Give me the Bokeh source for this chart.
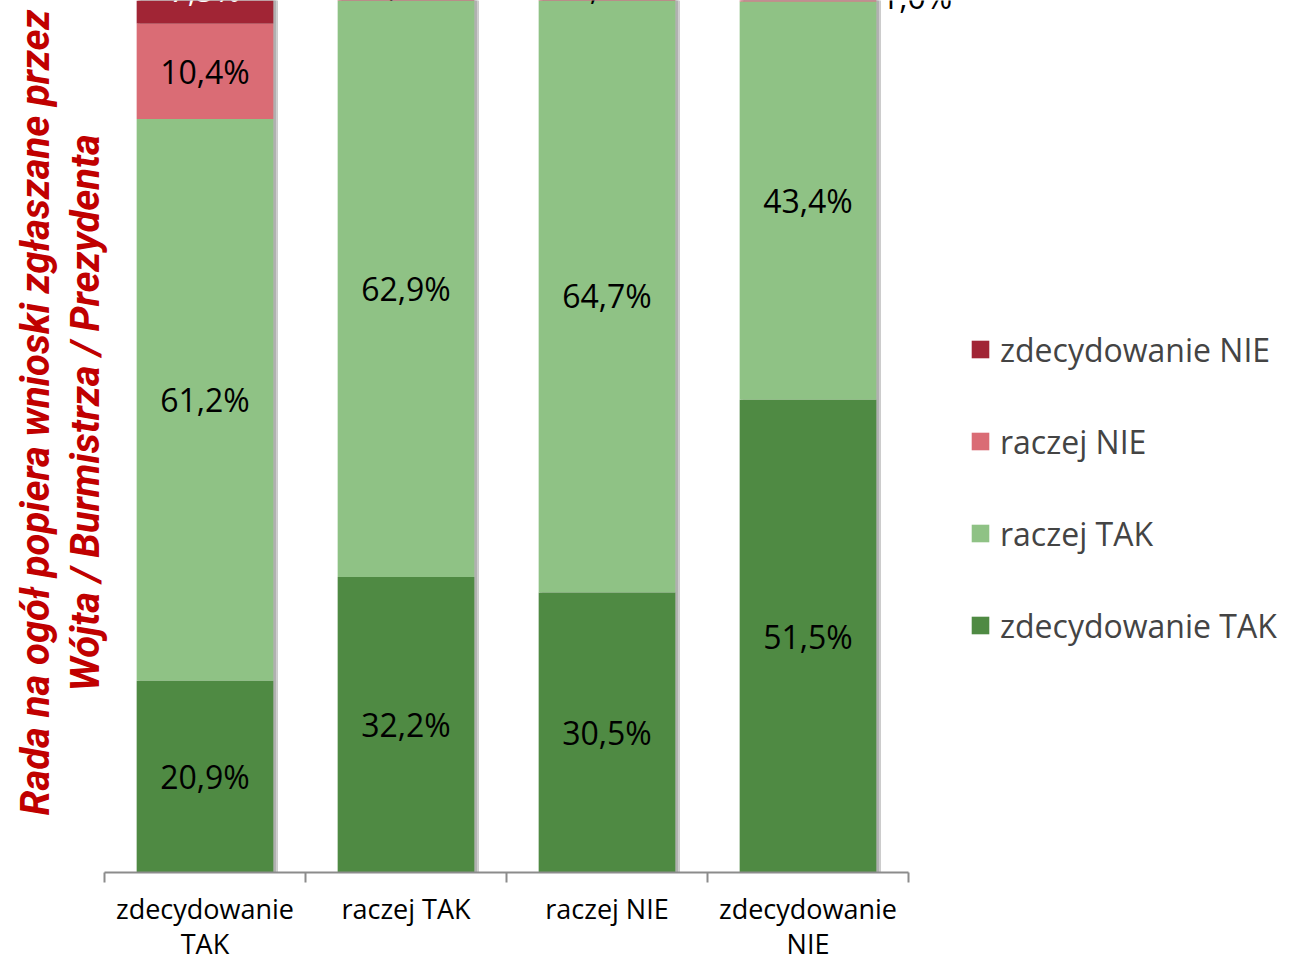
from bokeh.plotting import figure
from bokeh.models import ColumnDataSource, Range1d, FixedTicker, Legend, LegendItem, LabelSet, Label
from bokeh.embed import file_html
from bokeh.resources import INLINE
from bokeh.core.properties import value

categories = ["zdecydowanie TAK", "raczej TAK", "raczej NIE", "zdecydowanie NIE"]
tick_labels = ["zdecydowanie\nTAK", "raczej TAK", "raczej NIE", "zdecydowanie\nNIE"]
series = ["zdecydowanie TAK", "raczej TAK", "raczej NIE", "zdecydowanie NIE"]
zdec_tak = [20.9, 32.2, 30.5, 51.5]
raczej_tak = [61.2, 62.9, 64.7, 43.4]
raczej_nie = [10.4, 3.2, 2.4, 1.0]
zdec_nie = [7.5, 1.7, 2.4, 4.1]
colors = ["#4F8A43", "#8FC285", "#DA6C75", "#A12535"]
label_colors = ["black", "black", "black", "white"]
y_title = ["Rada na ogół popiera wnioski zgłaszane przez", "Wójta / Burmistrza / Prezydenta"]

values = [zdec_tak, raczej_tak, raczej_nie, zdec_nie]
n = len(categories)
xs = [i + 0.5 for i in range(n)]
BAR_W = 0.68
PX = 201.0  # pixels per category

data = {"x": xs}
for name, vals in zip(series, values):
    data[name] = vals
src = ColumnDataSource(data)

FONT = "Open Sans"

p = figure(width=1289, height=965, output_backend="svg", toolbar_location=None,
           x_range=Range1d(-104 / PX, (1289 - 104) / PX), y_range=Range1d(0, 95.0),
           y_axis_location=None,
           min_border_left=0, min_border_right=0, min_border_top=0, min_border_bottom=93)
p.outline_line_color = None
p.grid.visible = False
p.background_fill_color = "white"

totals = [sum(v[i] for v in values) for i in range(n)]
p.vbar(x=[x + 0.02 for x in xs], top=totals, width=BAR_W, color="#7F7F7F", alpha=0.35)
p.vbar(x=[x + 0.01 for x in xs], top=totals, width=BAR_W, color="#7F7F7F", alpha=0.35)

renderers = p.vbar_stack(series, x="x", width=BAR_W, source=src, color=colors, line_color=None)

# data labels
lx, ly, lt, lc = [], [], [], []
for i in range(n):
    cum = 0.0
    for s, vals in enumerate(values):
        v = vals[i]
        cum += v
        center = cum - v / 2
        if v < 1.5:
            lx.append(xs[i] + BAR_W / 2 + 0.2)
        else:
            lx.append(xs[i])
        ly.append(center)
        lt.append(f"{v:.1f}".replace(".", ",") + "%")
        lc.append(label_colors[s])
lsrc = ColumnDataSource(dict(x=lx, y=ly, text=lt, color=lc))
p.add_layout(LabelSet(x="x", y="y", text="text", source=lsrc, text_color="color",
                      text_align="center", text_baseline="middle",
                      text_font=value(FONT), text_font_size="32px"))

# x axis
ax = p.xaxis[0]
ax.bounds = (0, n)
ax.ticker = FixedTicker(ticks=xs, minor_ticks=list(range(n + 1)))
ax.major_label_overrides = {x: t for x, t in zip(xs, tick_labels)}
ax.major_tick_out = 0
ax.major_tick_in = 0
ax.minor_tick_out = 10
ax.minor_tick_in = 0
ax.minor_tick_line_color = "#8C8C8C"
ax.minor_tick_line_width = 2
ax.axis_line_color = "#8C8C8C"
ax.axis_line_width = 2
ax.major_label_text_font = FONT
ax.major_label_text_font_size = "27px"
ax.major_label_text_line_height = 0.97
ax.major_label_text_color = "black"
ax.major_label_standoff = 7

# y title
for t, xpos in zip(y_title, [(35 - 104) / PX, (85 - 104) / PX]):
    p.add_layout(Label(x=xpos, y=50.1, text=t, angle=90, angle_units="deg",
                       text_align="center", text_baseline="middle",
                       text_font="Roboto", text_font_style="bold italic",
                       text_font_size="40px", text_color="#C00000"))

# legend
items = [LegendItem(label=series[k], renderers=[renderers[k]]) for k in [3, 2, 1, 0]]
legend = Legend(items=items, location=(969, 225), orientation="vertical",
                padding=0, margin=0, spacing=48, label_height=44, glyph_height=22,
                glyph_width=22, label_standoff=9, border_line_color=None,
                background_fill_alpha=0, label_text_font=FONT, label_text_font_size="32px")
p.add_layout(legend, "center")

open("out.html", "w").write(file_html(p, INLINE))
